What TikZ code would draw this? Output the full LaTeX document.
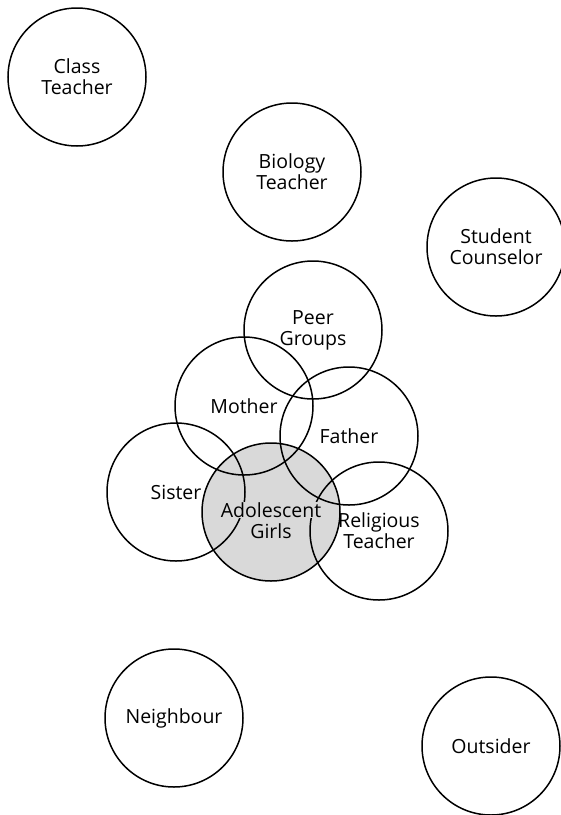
\documentclass[tikz,border=0pt]{standalone}
\usepackage{fontspec}
\setmainfont{Open Sans}
\definecolor{girlgray}{RGB}{217,217,217}
\setlength{\fboxsep}{0.5pt}

\begin{document}
\begin{tikzpicture}[x=1pt, y=-1pt,
    actor/.style={circle, draw, line width=1.5pt, minimum size=138pt,
        inner sep=0pt, align=center, font=\fontsize{19.5}{21}\selectfont},
    tag/.style={inner sep=0.5pt, align=center, font=\fontsize{19.5}{21}\selectfont}]
    \useasboundingbox (0, 0) rectangle (561, 815);
    % centre of the map
    \node[actor, fill=girlgray] (girls) at (271, 512) {};
    % family and friends
    \node[actor] (peer) at (313, 330) {Peer\\Groups};
    \node[actor] (mother) at (244, 406) {Mother};
    \node[actor] (father) at (349, 436) {Father};
    \node[actor] (sister) at (176, 492) {Sister};
    \node[actor] (religious) at (379, 531) {Religious\\Teacher};
    \node[tag] (girlsname) at ([yshift=-8pt]girls.center)
        {\colorbox{girlgray}{Adolescent}\\Girls};
    % school
    \node[actor] (class) at (77, 77) {Class\\Teacher};
    \node[actor] (biology) at (292, 172) {Biology\\Teacher};
    \node[actor] (counselor) at (496, 247) {Student\\Counselor};
    % others
    \node[actor] (neighbour) at (174, 718) {Neighbour};
    \node[actor] (outsider) at (491, 746) {Outsider};
\end{tikzpicture}
\end{document}
